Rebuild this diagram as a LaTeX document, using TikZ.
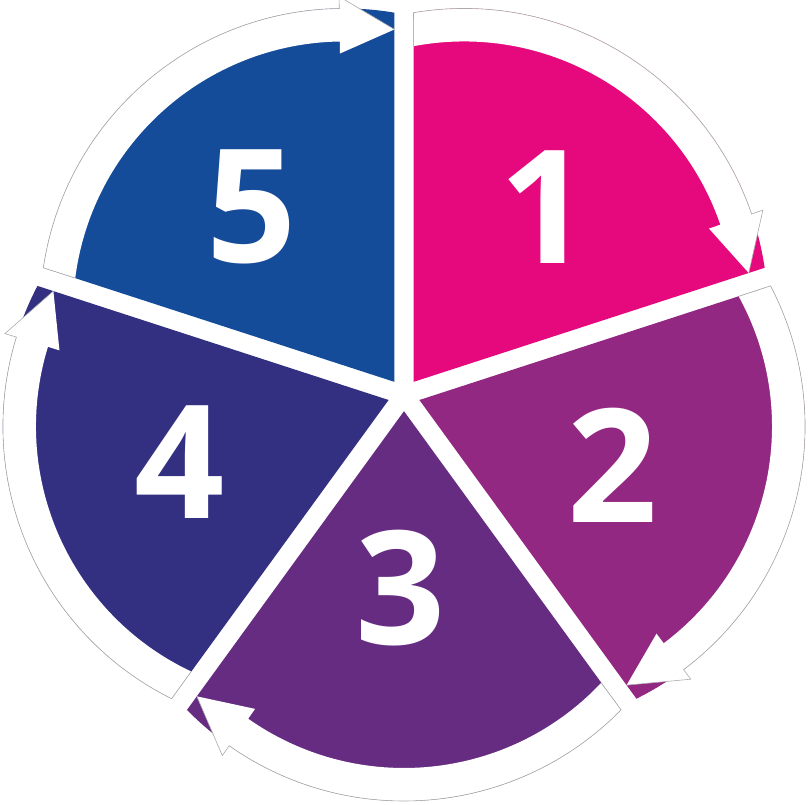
\documentclass[tikz,border=0pt]{standalone}
\usepackage{fontspec}
\newfontfamily\digitfont{Open Sans}
\definecolor{cA}{HTML}{E6097E}
\definecolor{cB}{HTML}{932882}
\definecolor{cC}{HTML}{652C82}
\definecolor{cD}{HTML}{333082}
\definecolor{cE}{HTML}{154C9A}
\tikzset{
  outl/.style={draw=black!33, line width=0.6pt, line join=miter},
  digit/.style={text=white, inner sep=0pt, font=\digitfont\bfseries\fontsize{158}{158}\selectfont}
}
\begin{document}
\begin{tikzpicture}[x=1pt,y=1pt]
\useasboundingbox (0,0) rectangle (808,805);
\fill[white] (0,0) rectangle (808,805);
% coloured sectors
\foreach \ang/\col in {54/cA,-18/cB,-90/cC,-162/cD,126/cE}{
  \begin{scope}[shift={(404,410)}, rotate=\ang]
    \begin{scope}
      \clip (16.2,0) -- (663.4,470.2) -- (663.4,-470.2) -- cycle;
      \fill[\col] (102,0) circle[radius=304];
    \end{scope}
  \end{scope}
}
% arrows
\foreach \ang in {54,-18,-90,-162,126}{
  \begin{scope}[shift={(404,410)}, rotate=\ang]
    \begin{scope}[shift={(102,0)}]
      \fill[white] (46.7:271) -- (45.55:304)
        arc[start angle=45.55, end angle=-35.1, radius=304]
        -- (-35.1:316) -- (-46.1:287.5) -- (-35.1:259) -- (-35.1:271)
        arc[start angle=-35.1, end angle=46.7, radius=271] -- cycle;
      \draw[outl] (46.7:271) -- (45.55:304)
        arc[start angle=45.55, end angle=-35.1, radius=304]
        -- (-35.1:316) -- (-46.1:287.5);
    \end{scope}
  \end{scope}
}
\node[digit] (n1) at (545,598) {1};
\node[digit] (n2) at (613,340) {2};
\node[digit] (n3) at (401,217) {3};
\node[digit] (n4) at (180,343) {4};
\node[digit] (n5) at (252,598) {5};
\end{tikzpicture}
\end{document}
